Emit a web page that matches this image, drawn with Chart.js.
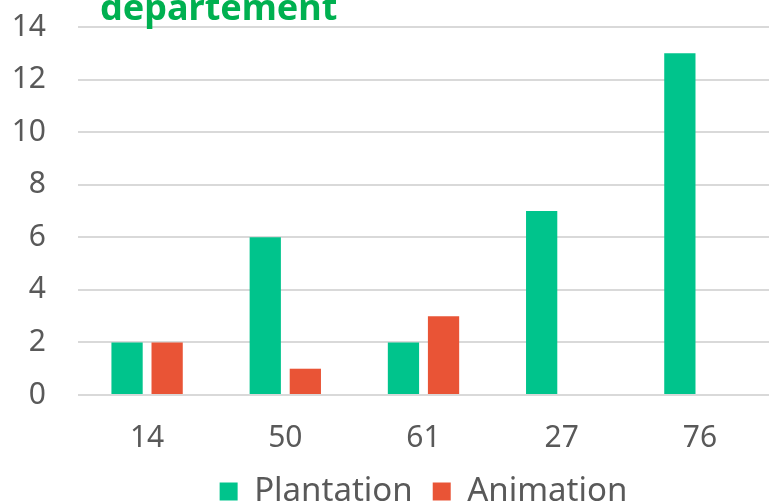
<!DOCTYPE html>
<html>
<head>
<meta charset="utf-8">
<script src="https://cdn.jsdelivr.net/npm/chart.js@4"></script>
<style>
    body { margin: 0; background: #fff; }
    #wrap { position: relative; width: 769px; height: 502px; overflow: hidden; }
    #box { position: absolute; left: 0; top: 0; width: 769px; height: 518px; }
</style>
</head>
<body>
<div id="wrap">
    <div id="box"><canvas id="barChart"></canvas></div>
</div>
<script>

const departements = ["14", "50", "61", "27", "76"];

const plantation = [2, 6, 2, 7, 13];

const animation = [2, 1, 3, 0, 0];

const yTicks = [0, 2, 4, 6, 8, 10, 12, 14];

const titleText = "departement";

// title is cut off at the top in the original, so draw it by hand
const cutTitle = {

    id: "cutTitle",

    afterDraw(chart) {

        const ctx = chart.ctx;

        ctx.save();
        ctx.font = "bold 36px 'Noto Sans'";
        ctx.fillStyle = "#00b050";
        ctx.textBaseline = "alphabetic";
        ctx.fillText(titleText, 100, 20);
        ctx.restore();

    }

};

function createBarChart() {

    const chartCanvas =
        document.getElementById("barChart");

    new Chart(chartCanvas, {

        type: "bar",

        data: {

            labels: departements,

            datasets: [
                {
                    label: "Plantation",
                    data: plantation,
                    backgroundColor: "#00c48c"
                },
                {
                    label: "Animation",
                    data: animation,
                    backgroundColor: "#e95436"
                }
            ]

        },

        options: {

            responsive: true,
            maintainAspectRatio: false,
            animation: false,

            categoryPercentage: 0.58,
            barPercentage: 0.78,

            layout: {
                padding: { left: 13, right: 0, top: 27, bottom: 0 }
            },

            plugins: {

                legend: {
                    position: "bottom",
                    fullSize: false,
                    labels: {
                        color: "#595959",
                        font: { family: "Noto Sans", size: 33 },
                        boxWidth: 18,
                        boxHeight: 18,
                        padding: 20,
                        useBorderRadius: false
                    }
                },

                tooltip: { enabled: false }

            },

            scales: {

                x: {
                    grid: { display: false },
                    border: { display: false },
                    afterFit: axis => {
                        axis.height = 60;
                    },
                    ticks: {
                        color: "#595959",
                        font: { family: "Noto Sans", size: 30 },
                        padding: 17
                    }
                },

                y: {
                    min: 0,
                    max: 14,
                    afterBuildTicks: axis => {
                        axis.ticks = yTicks.map(v => ({ value: v }));
                    },
                    afterFit: axis => {
                        axis.width = 65;
                        axis.paddingTop = 0;
                        axis.paddingBottom = 0;
                    },
                    grid: { color: "#d9d9d9", lineWidth: 2, drawTicks: false },
                    border: { display: false },
                    ticks: {
                        color: "#595959",
                        font: { family: "Noto Sans", size: 30 },
                        padding: 32
                    }
                }

            }

        },

        plugins: [cutTitle]

    });

}

createBarChart();

</script>
</body>
</html>
